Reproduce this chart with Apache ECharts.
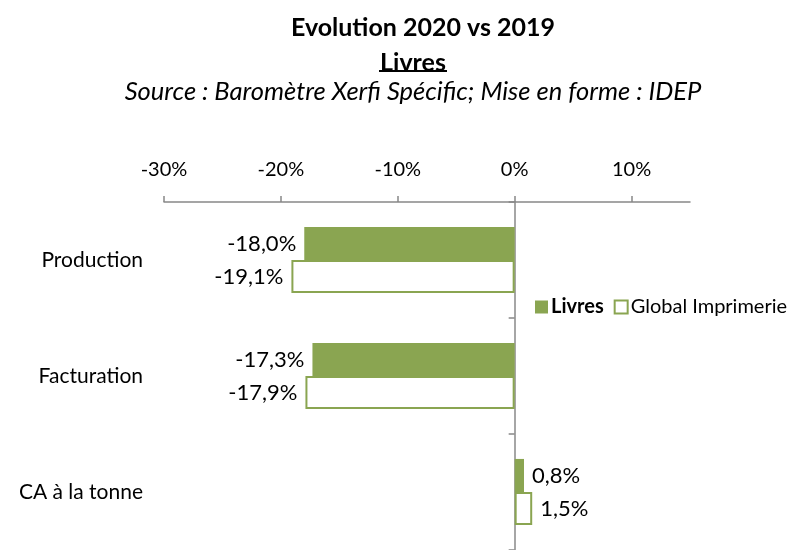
<!DOCTYPE html>
<html>
<head>
<meta charset="utf-8">
<script src="https://cdn.jsdelivr.net/npm/echarts@6/dist/echarts.min.js"></script>
<style>
  html, body { margin: 0; padding: 0; background: #fff; }
  #chart { width: 803px; height: 550px; }
</style>
</head>
<body>
<div id="chart"></div>
<script>
// données
const categories = ['Production', 'Facturation', 'CA à la tonne'];
const livres = [-18.0, -17.3, 0.8];
const globalImprimerie = [-19.1, -17.9, 1.5];
const seriesNames = ['Livres', 'Global Imprimerie'];

const green = '#8aa551';
const font = 'Lato';

const chart = echarts.init(document.getElementById('chart'));

// libellés à gauche pour les valeurs négatives, à droite sinon
const withLabels = values => values.map(v => ({
  value: v,
  label: { position: v < 0 ? 'left' : 'right' }
}));

const fmt = v => v.toFixed(1).replace('.', ',') + '%';

chart.setOption({
  animation: false,
  textStyle: { fontFamily: font },
  title: [
    { text: 'Evolution 2020 vs 2019', left: 418, top: 10, textAlign: 'center',
      textStyle: { fontFamily: font, fontSize: 25, fontWeight: 'bold', color: '#000' } },
    { text: 'Livres', left: 408, top: 45, textAlign: 'center',
      textStyle: { fontFamily: font, fontSize: 25, fontWeight: 'bold', color: '#000' } },
    { text: 'Source : Baromètre Xerfi Spécific; Mise en forme : IDEP', left: 408, top: 74, textAlign: 'center',
      textStyle: { fontFamily: font, fontSize: 25.5, fontStyle: 'italic', fontWeight: 'normal', color: '#000' } }
  ],
  graphic: [
    { type: 'line', shape: { x1: 379, y1: 71, x2: 447, y2: 71 }, style: { stroke: '#000', lineWidth: 2 } }
  ],
  legend: {
    data: [
      { name: 'Livres', textStyle: { fontWeight: 'bold' } },
      'Global Imprimerie'
    ],
    left: 530,
    top: 292,
    icon: 'rect',
    itemWidth: 13,
    itemHeight: 13,
    itemGap: 10,
    textStyle: { fontFamily: font, fontSize: 20, color: '#000', padding: [0, 0, 0, -2] }
  },
  grid: { left: 164, top: 202, width: 526, height: 351 },
  xAxis: {
    type: 'value',
    position: 'top',
    min: -30,
    max: 15,
    interval: 10,
    axisLine: { show: true, lineStyle: { color: '#888', width: 1.5 } },
    axisTick: { show: true, length: 6, lineStyle: { color: '#888', width: 1.5 } },
    axisLabel: { formatter: v => v + '%', fontSize: 20, color: '#000', margin: 22, showMaxLabel: false },
    splitLine: { show: false }
  },
  yAxis: [
    {
      type: 'category',
      data: categories,
      inverse: true,
      axisLine: { onZero: true, lineStyle: { color: '#888', width: 1.5 } },
      axisTick: { show: true, length: 6, lineStyle: { color: '#888', width: 1.5 } },
      axisLabel: { show: false }
    },
    {
      type: 'category',
      data: categories,
      inverse: true,
      position: 'left',
      axisLine: { show: false, onZero: false },
      axisTick: { show: false },
      axisLabel: { fontSize: 21, color: '#000', margin: 21 }
    }
  ],
  series: [
    {
      name: seriesNames[0],
      type: 'bar',
      yAxisIndex: 0,
      data: withLabels(livres),
      barCategoryGap: '43%',
      barGap: '0%',
      itemStyle: { color: green },
      label: { show: true, formatter: p => fmt(p.value), fontSize: 22, color: '#000', distance: 8 }
    },
    {
      name: seriesNames[1],
      type: 'bar',
      yAxisIndex: 0,
      data: withLabels(globalImprimerie),
      barCategoryGap: '43%',
      barGap: '0%',
      itemStyle: { color: '#fff', borderColor: green, borderWidth: 2 },
      label: { show: true, formatter: p => fmt(p.value), fontSize: 22, color: '#000', distance: 8 }
    }
  ]
});

window.addEventListener('resize', () => chart.resize());
</script>
</body>
</html>
